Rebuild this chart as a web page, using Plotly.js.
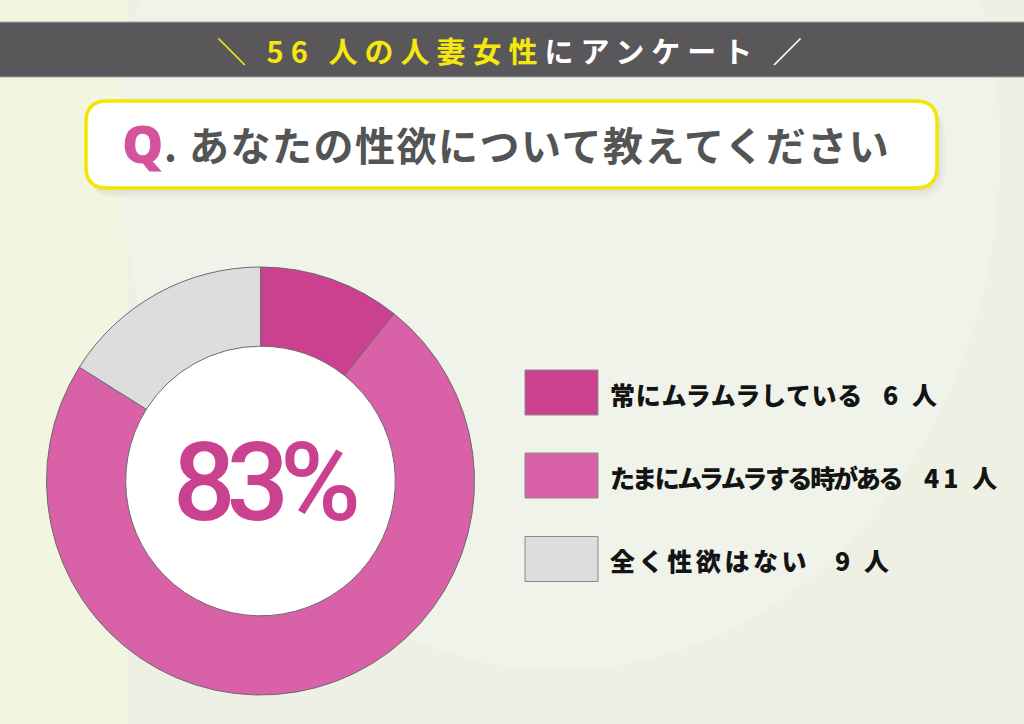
<!DOCTYPE html>
<html>
<head>
<meta charset="utf-8">
<script src="https://cdn.plot.ly/plotly-3.0.1.min.js"></script>
<style>
  html, body { margin: 0; padding: 0; background: #EDF0E3; }
  #chart { width: 1024px; height: 724px; }
</style>
</head>
<body>
<div id="chart"></div>
<script>
// survey data
const surveyTitle = '56 人の人妻女性';
const surveyTitleRest = 'にアンケート';
const question = 'あなたの性欲について教えてください';
const labels = ['常にムラムラしている', 'たまにムラムラする時がある', '全く性欲はない'];
const counts = [6, 41, 9];
const sliceColors = ['#CB408F', '#D961A8', '#DDDDDD'];

const total = counts.reduce((a, b) => a + b, 0);
// share of women who feel it at least sometimes (shown truncated like the original)
const pct = Math.floor((counts[0] + counts[1]) / total * 100);

// the cartesian axes are only a pixel grid for the decoration shapes
const W = 1024, H = 724;

function roundRect(x0, y0, x1, y1, r) {
    return `M${x0 + r},${y0} L${x1 - r},${y0} Q${x1},${y0} ${x1},${y0 + r} ` +
        `L${x1},${y1 - r} Q${x1},${y1} ${x1 - r},${y1} L${x0 + r},${y1} ` +
        `Q${x0},${y1} ${x0},${y1 - r} L${x0},${y0 + r} Q${x0},${y0} ${x0 + r},${y0} Z`;
}

const shapes = [];
// background tones
shapes.push({type: 'rect', x0: -10, x1: 128, y0: -10, y1: H + 10, fillcolor: '#F2F5DF', line: {width: 0}, layer: 'below'});
shapes.push({type: 'circle', x0: 120, x1: 1000, y0: -370, y1: 670, fillcolor: '#F0F3EA', line: {width: 0}, layer: 'below'});
// header band
shapes.push({type: 'rect', x0: -5, x1: W + 5, y0: 22, y1: 77, fillcolor: '#59575A', line: {color: '#A3A3A3', width: 1}, layer: 'below'});
// question box with a soft shadow (a few faint layers)
for (let k = 4; k >= 1; k--) {
    shapes.push({type: 'path', path: roundRect(86 + k, 101 + k * 2, 937 + k * 2, 188 + k * 2.5, 22 + k),
        fillcolor: 'rgba(60,60,40,0.025)', line: {width: 0}, layer: 'below'});
}
shapes.push({type: 'path', path: roundRect(86, 101, 937, 188, 21), fillcolor: '#FFFFFF', line: {color: '#F4E600', width: 3.5}, layer: 'below'});
// white centre of the donut
shapes.push({type: 'circle', x0: 125, x1: 396, y0: 345.5, y1: 616.5, fillcolor: '#FFFFFF', line: {width: 0}, layer: 'below'});

// legend swatches and text placement
const legendY = [392.5, 475.5, 559];
const labelSpacing = [0.7, -2.3, 3.6];
const countRight = [943, 1003, 895];
labels.forEach((l, i) => {
    shapes.push({type: 'rect', x0: 525, x1: 598, y0: legendY[i] - 22.5, y1: legendY[i] + 22.5,
        fillcolor: sliceColors[i], line: {color: '#8A8A8A', width: 1}, layer: 'below'});
});

const jp = '"Noto Sans CJK JP", "Noto Sans", sans-serif';
const annotations = [];
annotations.push({
    x: 513, y: 50, xref: 'x', yref: 'y', showarrow: false,
    text: `<span style="color:#F6E70D;letter-spacing:7px">＼ ${surveyTitle}</span>` +
        `<span style="color:#FFFFFF;letter-spacing:7px">${surveyTitleRest} ／</span>`,
    font: {family: jp, size: 29, weight: 700, color: '#F6E70D'}
});
annotations.push({
    x: 120, y: 142, xref: 'x', yref: 'y', xanchor: 'left', showarrow: false,
    text: 'Q', font: {family: '"Open Sans", Roboto, sans-serif', size: 52, weight: 800, color: '#D3549D'}
});
annotations.push({
    x: 162, y: 144, xref: 'x', yref: 'y', xanchor: 'left', showarrow: false,
    text: `<span style="letter-spacing:1.5px">. ${question}</span>`,
    font: {family: jp, size: 40, weight: 700, color: '#545454'}
});
labels.forEach((l, i) => {
    annotations.push({
        x: 608, y: legendY[i] + 1, xref: 'x', yref: 'y', xanchor: 'left', showarrow: false,
        text: `<span style="letter-spacing:${labelSpacing[i]}px">${l}</span>`,
        font: {family: jp, size: 25, weight: 900, color: '#141414'}
    });
    annotations.push({
        x: countRight[i], y: legendY[i] + 1, xref: 'x', yref: 'y', xanchor: 'right', showarrow: false,
        text: `<span style="letter-spacing:4px">${counts[i]} 人</span>`,
        font: {family: jp, size: 25, weight: 900, color: '#141414'}
    });
});
annotations.push({
    x: 265, y: 482, xref: 'x', yref: 'y', showarrow: false,
    text: `<span style="letter-spacing:-9px">${pct}%</span>`,
    font: {family: 'Roboto, sans-serif', size: 110, weight: 500, color: '#C9418F'}
});

const data = [
    {x: [], y: [], type: 'scatter', hoverinfo: 'skip', showlegend: false},
    {
        type: 'pie',
        labels: labels,
        values: counts,
        sort: false,
        direction: 'clockwise',
        rotation: 0,
        hole: 0.63,
        marker: {colors: sliceColors, line: {color: '#6B6B6B', width: 1}},
        textinfo: 'none',
        hoverinfo: 'none',
        showlegend: false,
        domain: {x: [46 / W, 475 / W], y: [1 - 695 / H, 1 - 267 / H]}
    }
];

const layout = {
    width: W, height: H,
    margin: {l: 0, r: 0, t: 0, b: 0},
    paper_bgcolor: '#EDF0E3',
    plot_bgcolor: 'rgba(0,0,0,0)',
    xaxis: {range: [0, W], visible: false, fixedrange: true},
    yaxis: {range: [H, 0], visible: false, fixedrange: true},
    showlegend: false,
    shapes: shapes,
    annotations: annotations
};

Plotly.newPlot('chart', data, layout, {staticPlot: true});
</script>
</body>
</html>
